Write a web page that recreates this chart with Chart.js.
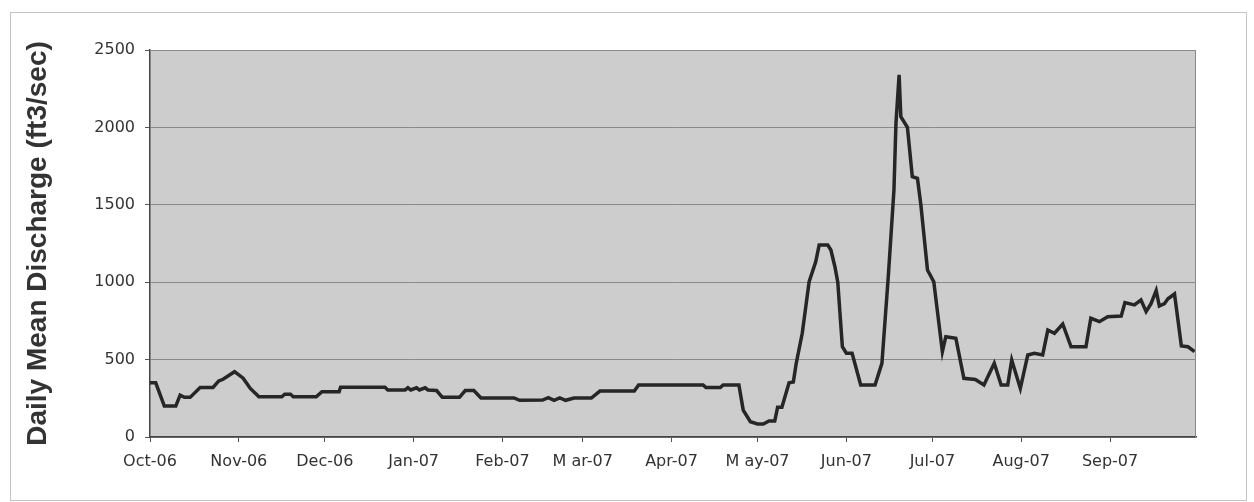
<!DOCTYPE html>
<html>
<head>
<meta charset="utf-8">
<script src="https://cdn.jsdelivr.net/npm/chart.js@4.4.1/dist/chart.umd.min.js"></script>
<style>
  body { margin: 0; background: #fff; }
  #wrap { width: 1254px; height: 502px; }
</style>
</head>
<body>
<div id="wrap"><canvas id="flowChart" width="1254" height="502"></canvas></div>
<script>
// days since 1 Oct 2006 and the discharge (ft3/sec)
const days = [
    0, 2, 5, 9, 10.5, 12, 14, 17.5, 22, 24, 25.5, 29.5, 32.5, 35, 38, 46, 47, 49, 50, 58,
    60, 66, 66.5, 82, 83, 89, 90, 91, 93, 94, 96, 97, 100, 102, 108, 110, 113, 115.5, 127, 129,
    137, 139, 141, 143, 145, 148, 154, 157, 169, 170.5, 193, 194, 199, 200, 205.5, 207, 209.5, 212, 214, 216,
    218, 219, 220.5, 223, 224.5, 225.5, 227.6, 230, 232.3, 233.5, 236.5, 237.6, 239, 240, 241.6, 243, 245, 248, 253, 255.4,
    257.7, 259.6, 260.3, 261.4, 262, 264.3, 266, 267.8, 269, 271.3, 273.5, 276.5, 277.7, 281.2, 284, 288, 291, 294.6, 297, 299.3,
    300.7, 303.7, 306.3, 308.6, 311.5, 313.3, 315.6, 318.5, 321.4, 326.6, 328.3, 331.3, 334.2, 338.9, 340.2, 343.5, 345.8, 347.6, 349.3, 351.1,
    352.2, 354, 355.2, 357.5, 359.9, 362.2, 364.5
];
const discharge = [
    350, 350, 200, 200, 270, 256, 256, 320, 320, 362, 373, 422, 380, 314, 260, 260, 276, 276, 260, 260,
    293, 293, 321, 321, 304, 304, 318, 304, 318, 304, 318, 304, 300, 256, 256, 300, 300, 252, 252, 237,
    239, 254, 237, 252, 237, 252, 252, 297, 297, 336, 336, 319, 319, 336, 336, 174, 99, 84, 84, 103,
    103, 192, 192, 351, 356, 476, 670, 1003, 1132, 1240, 1240, 1208, 1100, 1000, 583, 541, 541, 336, 336, 476,
    1057, 1596, 2026, 2339, 2069, 2000, 1682, 1671, 1499, 1079, 1003, 551, 648, 638, 379, 372, 336, 476, 336, 336,
    497, 314, 530, 541, 530, 691, 670, 730, 583, 583, 767, 745, 777, 781, 868, 853, 885, 810, 861, 945,
    846, 861, 893, 924, 588, 583, 551
];
const monthStarts = [0, 31, 61, 92, 123, 151, 182, 212, 243, 273, 304, 335];
const monthLabels = ["Oct-06", "Nov-06", "Dec-06", "Jan-07", "Feb-07", "M ar-07",
                     "Apr-07", "M ay-07", "Jun-07", "Jul-07", "Aug-07", "Sep-07"];
const yTicks = [0, 500, 1000, 1500, 2000, 2500];

const points = days.map((d, i) => ({ x: d, y: discharge[i] }));

const frame = {
    id: "frame",
    beforeDraw(chart) {
        const { ctx, chartArea: a } = chart;
        ctx.save();
        ctx.fillStyle = "#ffffff";
        ctx.fillRect(0, 0, chart.width, chart.height);
        ctx.strokeStyle = "#c4c4c4";
        ctx.lineWidth = 1;
        ctx.strokeRect(10.5, 12.5, 1236, 488);
        ctx.fillStyle = "#cdcdcd";
        ctx.fillRect(a.left, a.top, a.right - a.left, a.bottom - a.top);
        ctx.restore();
    },
    afterDatasetsDraw(chart) {
        const { ctx, chartArea: a } = chart;
        ctx.save();
        ctx.strokeStyle = "#8a8a8a";
        ctx.lineWidth = 1;
        ctx.beginPath();
        ctx.moveTo(a.left, a.top + 0.5);
        ctx.lineTo(a.right - 0.5, a.top + 0.5);
        ctx.lineTo(a.right - 0.5, a.bottom);
        ctx.stroke();
        ctx.restore();
    }
};

new Chart(document.getElementById("flowChart"), {
    type: "line",
    data: {
        datasets: [{
            label: "Daily Mean Discharge",
            data: points,
            borderColor: "#262626",
            borderWidth: 3.5,
            pointRadius: 0,
            tension: 0,
            fill: false
        }]
    },
    options: {
        responsive: false,
        animation: false,
        layout: { padding: { left: 12, top: 50, right: 58, bottom: 0 } },
        plugins: {
            legend: { display: false },
            tooltip: { enabled: false }
        },
        scales: {
            x: {
                type: "linear",
                min: 0,
                max: 365,
                afterBuildTicks: (scale) => {
                    scale.ticks = monthStarts.map(v => ({ value: v }));
                },
                afterFit: (scale) => { scale.height = 65; },
                ticks: {
                    autoSkip: false,
                    maxRotation: 0,
                    color: "#333",
                    padding: 10,
                    font: { family: "DejaVu Sans", size: 16 },
                    callback: (v) => monthLabels[monthStarts.indexOf(v)]
                },
                grid: {
                    drawOnChartArea: false,
                    drawTicks: true,
                    tickLength: 5,
                    tickColor: "#555"
                },
                border: { color: "#444", width: 1.5 }
            },
            y: {
                min: 0,
                max: 2500,
                afterBuildTicks: (scale) => {
                    scale.ticks = yTicks.map(v => ({ value: v }));
                },
                afterFit: (scale) => { scale.width = 138; },
                ticks: {
                    color: "#333",
                    padding: 10,
                    font: { family: "DejaVu Sans", size: 16 },
                    callback: (v) => String(v)
                },
                grid: {
                    color: "#8a8a8a",
                    lineWidth: 1,
                    tickLength: 5,
                    tickColor: "#555"
                },
                border: { color: "#444", width: 1.5 },
                title: {
                    display: true,
                    text: "Daily Mean Discharge (ft3/sec)",
                    color: "#333",
                    padding: { top: 9, bottom: 0 },
                    font: { family: "Liberation Sans", size: 28, weight: "bold" }
                }
            }
        }
    },
    plugins: [frame]
});
</script>
</body>
</html>
